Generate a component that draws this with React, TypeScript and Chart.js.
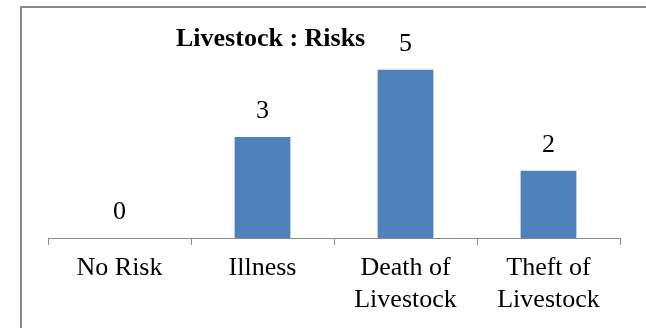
import React, { useEffect, useRef } from "react";
import { Chart, registerables } from "chart.js";

Chart.register(...registerables);

const categories: (string | string[])[] = ["No Risk", "Illness", ["Death of", "Livestock"], ["Theft of", "Livestock"]];
const values: number[] = [0, 3, 5, 2];
const chartTitle = "Livestock : Risks";

const FONT = "Liberation Serif";

const valueLabels = {
  id: "valueLabels",
  afterDatasetsDraw(chart: any) {
    const ctx = chart.ctx;
    const meta = chart.getDatasetMeta(0);
    ctx.save();
    ctx.font = `26px "${FONT}"`;
    ctx.fillStyle = "#000";
    ctx.textAlign = "center";
    ctx.textBaseline = "alphabetic";
    meta.data.forEach((bar: any, i: number) => {
      ctx.fillText(String(values[i]), bar.x, bar.y - 19);
    });
    ctx.restore();
  },
};

const titlePlugin = {
  id: "customTitle",
  afterDraw(chart: any) {
    const ctx = chart.ctx;
    ctx.save();
    ctx.font = `bold 26px "${FONT}"`;
    ctx.fillStyle = "#000";
    ctx.textAlign = "left";
    ctx.textBaseline = "alphabetic";
    ctx.fillText(chartTitle, 176, 46);
    ctx.restore();
  },
};

export default function App() {
  const ref = useRef<HTMLCanvasElement | null>(null);
  useEffect(() => {
    if (!ref.current) return;
    const chart = new Chart(ref.current, {
      type: "bar",
      data: {
        labels: categories as any,
        datasets: [
          {
            data: values,
            backgroundColor: "#4F81BD",
            categoryPercentage: 1,
            barPercentage: 0.39,
          },
        ],
      },
      options: {
        animation: false,
        responsive: false,
        maintainAspectRatio: false,
        layout: { padding: { left: 48, right: 26, top: 36, bottom: 0 } },
        plugins: { legend: { display: false }, tooltip: { enabled: false }, title: { display: false } },
        scales: {
          x: {
            grid: {
              offset: true,
              drawOnChartArea: false,
              drawTicks: true,
              tickLength: 7,
              color: "#8c8c8c",
            },
            border: { display: true, color: "#8c8c8c", width: 1 },
            ticks: {
              color: "#000",
              font: { family: `"${FONT}"`, size: 26, lineHeight: 1.23 },
              padding: 7,
              maxRotation: 0,
              autoSkip: false,
            },
            afterFit(scale: any) {
              scale.height = 90;
            },
          },
          y: {
            display: false,
            min: 0,
            max: 6,
          },
        },
      },
      plugins: [valueLabels, titlePlugin],
    });
    return () => chart.destroy();
  }, []);
  return (
    <div style={{ position: "fixed", left: 0, top: 0, width: 646, height: 328, background: "#fff" }}>
      <div
        style={{
          position: "absolute",
          left: 20,
          top: 6,
          right: 0,
          bottom: 0,
          borderLeft: "2px solid #8a8a8a",
          borderTop: "2px solid #8a8a8a",
        }}
      />
      <canvas ref={ref} width={646} height={328} style={{ position: "absolute", left: 0, top: 0 }} />
    </div>
  );
}
